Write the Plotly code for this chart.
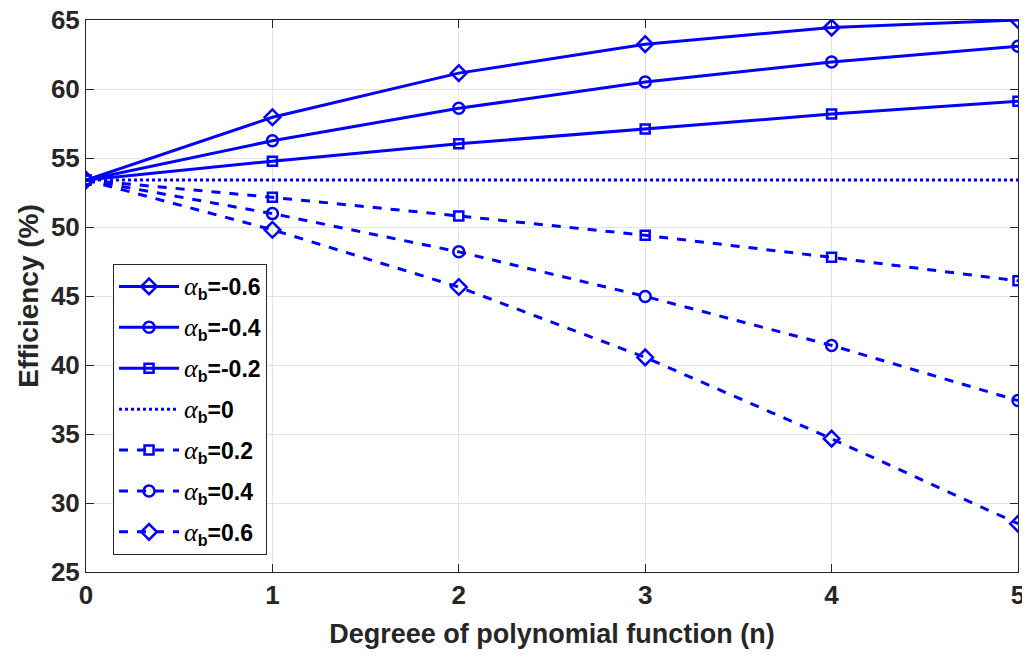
import plotly.graph_objects as go

n_vals = [0, 1, 2, 3, 4, 5]
alpha_labels = ["-0.6", "-0.4", "-0.2", "0", "0.2", "0.4", "0.6"]
eff_m06 = [53.4, 57.95, 61.15, 63.25, 64.45, 65.0]
eff_m04 = [53.4, 56.25, 58.6, 60.5, 61.95, 63.1]
eff_m02 = [53.4, 54.77, 56.03, 57.1, 58.18, 59.12]
eff_0 = [53.4, 53.4, 53.4, 53.4, 53.4, 53.4]
eff_p02 = [53.4, 52.15, 50.8, 49.4, 47.8, 46.1]
eff_p04 = [53.4, 50.97, 48.2, 44.97, 41.42, 37.42]
eff_p06 = [53.4, 49.8, 45.65, 40.55, 34.66, 28.5]

series = [eff_m06, eff_m04, eff_m02, eff_0, eff_p02, eff_p04, eff_p06]
styles = [
    ("solid", "diamond-open", 12),
    ("solid", "circle-open", 11),
    ("solid", "square-open", 9),
    ("dot", None, 0),
    ("dash", "square-open", 9),
    ("dash", "circle-open", 11),
    ("dash", "diamond-open", 12),
]

ALPHA = ("<span style=\"font-family:'Liberation Serif','Times New Roman',serif;"
         "font-style:italic;font-weight:normal;font-size:26px\">α</span>")

fig = go.Figure()
for i, (lab, ys, (dash, sym, sz)) in enumerate(zip(alpha_labels, series, styles)):
    kw = dict(
        x=n_vals, y=ys,
        name=ALPHA + "<sub>b</sub>=" + lab,
        legendgroup=f"g{i}",
        line=dict(color="#0000FF", width=3, dash=dash),
    )
    if sym:
        kw["mode"] = "lines+markers"
        kw["marker"] = dict(symbol=sym, size=sz, color="#0000FF",
                            line=dict(color="#0000FF", width=2.5))
    else:
        kw["mode"] = "lines"
    fig.add_trace(go.Scatter(**kw))

FONT = "Arial, Liberation Sans, Helvetica, sans-serif"
axis_common = dict(
    showline=True, linecolor="#262626", linewidth=1, mirror="ticks",
    ticks="inside", ticklen=8, tickcolor="#262626", tickwidth=1,
    showgrid=True, gridcolor="#E3E3E3", gridwidth=1, zeroline=False,
    ticklabeloverflow="allow",
    tickfont=dict(family=FONT, size=26, color="#262626", weight="bold"),
)

fig.update_xaxes(range=[0, 5], dtick=1,
                 title=dict(text="Degreee of polynomial function (n)",
                            font=dict(family=FONT, size=27, color="#262626", weight="bold"),
                            standoff=14),
                 **axis_common)
fig.update_yaxes(range=[25, 65], dtick=5,
                 title=dict(text="Efficiency (%)",
                            font=dict(family=FONT, size=28, color="#262626", weight="bold"),
                            standoff=4),
                 **axis_common)

fig.update_layout(
    width=1022, height=644,
    margin=dict(l=78, r=12, t=12, b=80, autoexpand=False),
    plot_bgcolor="white", paper_bgcolor="white",
    legend=dict(
        x=0.029, y=0.558, xanchor="left", yanchor="top",
        bgcolor="white", bordercolor="#262626", borderwidth=1,
        font=dict(family=FONT, size=23, color="#000000", weight="bold"),
        itemwidth=60, tracegroupgap=8, traceorder="grouped",
    ),
    showlegend=True,
)

fig.write_html("out.html")
